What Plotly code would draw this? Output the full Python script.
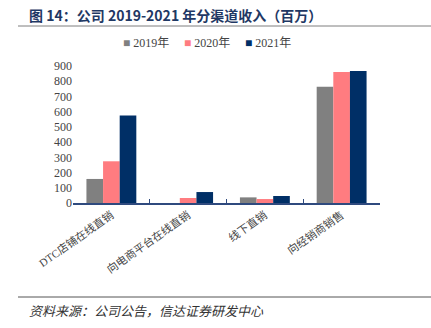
import plotly.graph_objects as go

# Revenue by channel, million yuan
categories = ["DTC店铺在线直销", "向电商平台在线直销", "线下直销", "向经销商销售"]
rev_2019 = [158, 0, 37, 764]
rev_2020 = [274, 33, 26, 860]
rev_2021 = [575, 72, 46, 867]
y_ticks = [0, 100, 200, 300, 400, 500, 600, 700, 800, 900]

series = [
    ("2019年", rev_2019, "#808080"),
    ("2020年", rev_2020, "#FF7C80"),
    ("2021年", rev_2021, "#002F66"),
]

W, H = 431, 328
L, R, T, B = 73, 51, 66, 125
pw, ph = W - L - R, H - T - B


def px(x):
    return (x - L) / pw


def py(y):
    return (H - B - y) / ph


serif = "Liberation Serif, Noto Sans CJK SC, serif"

fig = go.Figure()
for name, vals, color in series:
    fig.add_trace(go.Bar(x=categories, y=vals, name=name, showlegend=False,
                         marker=dict(color=color, line=dict(width=0))))

fig.update_layout(
    width=W, height=H,
    margin=dict(l=L, r=R, t=T, b=B, autoexpand=False),
    paper_bgcolor="white", plot_bgcolor="white",
    barmode="group", bargap=0.35, bargroupgap=0,
    font=dict(family=serif, size=12, color="#333333"),
    xaxis=dict(showline=True, linecolor="#2F4A7E", linewidth=1.5,
               ticks="inside", tickson="boundaries", ticklen=4, tickcolor="#2F4A7E",
               tickangle=-35, tickfont=dict(family=serif, size=11, color="#444444"),
               showgrid=False),
    yaxis=dict(range=[0, 900], tickvals=y_ticks, showline=False, showgrid=False,
               zeroline=False, ticks="", tickfont=dict(family=serif, size=12, color="#444444")),
)

# Compact legend row: coloured square followed by the series name
legend_x = [121, 182, 243]
for (name, vals, color), lx in zip(series, legend_x):
    fig.add_annotation(text=f"<span style='color:{color}'>■</span> {name}",
                       xref="paper", yref="paper", x=px(lx), y=py(43), xanchor="left", yanchor="middle",
                       showarrow=False, font=dict(family=serif, size=12, color="#444444"))

# Heading, rules and source note
fig.add_annotation(text="<b>图 14：公司 2019-2021 年分渠道收入（百万）</b>",
                   xref="paper", yref="paper", x=px(27), y=py(15), xanchor="left", yanchor="middle",
                   showarrow=False, font=dict(family="Noto Sans CJK SC", size=14, color="#1F3864"))
fig.add_shape(type="line", xref="paper", yref="paper", x0=px(18), x1=px(431), y0=py(26), y1=py(26),
              line=dict(color="#7F7F7F", width=1))
fig.add_shape(type="line", xref="paper", yref="paper", x0=px(18), x1=px(431), y0=py(297), y1=py(297),
              line=dict(color="#555555", width=1))
fig.add_annotation(text="<i>资料来源：公司公告，信达证券研发中心</i>",
                   xref="paper", yref="paper", x=px(27), y=py(310), xanchor="left", yanchor="middle",
                   showarrow=False, font=dict(family="Noto Sans CJK SC", size=13, color="#333333"))

fig.write_html("out.html")
